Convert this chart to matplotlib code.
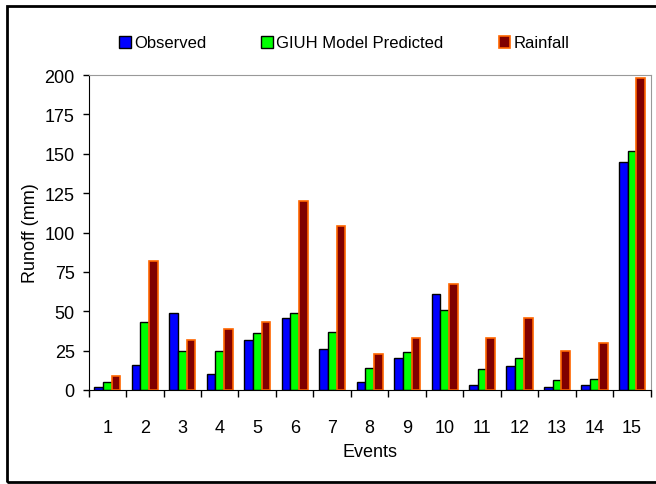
import numpy as np
import matplotlib
matplotlib.use("Agg")
from matplotlib import pyplot as plt
from matplotlib.patches import Rectangle

plt.rcParams["font.family"] = ["Liberation Sans", "DejaVu Sans"]

events = [str(i) for i in range(1, 16)]
observed = [2, 16, 49, 10, 32, 46, 26, 5, 20, 61, 3, 15, 2, 3, 144.5]
giuh = [5, 43, 25, 25, 36, 49, 37, 14, 24, 51, 13, 20, 6, 7, 151.5]
rainfall = [9, 82, 32, 39, 43, 120, 104, 23, 33, 67, 33, 46, 25, 30, 198.5]

fig = plt.figure(figsize=(6.56, 4.85), dpi=100)
ax = fig.add_axes([0.135, 0.194, 0.857, 0.649])

x = np.arange(1, len(events) + 1)
w = 0.233
ax.bar(x - w, observed, w, color="#0000FF", edgecolor="black", linewidth=1, label="Observed")
ax.bar(x, giuh, w, color="#00FF00", edgecolor="black", linewidth=1, label="GIUH Model Predicted")
ax.bar(x + w, rainfall, w, color="#800000", edgecolor="#FF6600", linewidth=1.2, label="Rainfall")

ax.set_xlim(0.5, 15.5)
ax.set_ylim(0, 200)
ax.set_yticks(range(0, 201, 25))
ax.set_xticks(np.arange(0.5, 16, 1))
ax.set_xticklabels([])
ax.set_xticks(x, minor=True)
ax.set_xticklabels(events, minor=True)
ax.tick_params(axis="x", which="major", length=5, direction="out", width=1)
ax.tick_params(axis="x", which="minor", length=0, pad=21, labelsize=13)
ax.tick_params(axis="y", length=4, direction="out", width=1, pad=6, labelsize=13)

ax.spines["top"].set_color("#999999")
ax.spines["right"].set_color("#999999")
ax.spines["left"].set_color("black")
ax.spines["bottom"].set_color("black")

ax.set_xlabel("Events", fontsize=13, labelpad=5)
ax.set_ylabel("Runoff (mm)", fontsize=13, labelpad=4)

fig.legend(loc="center", bbox_to_anchor=(0.525, 1 - 44 / 485), ncol=3, frameon=False,
           fontsize=12, handlelength=0.7, handleheight=0.7, handletextpad=0.2,
           columnspacing=3.3)

fig.patches.append(Rectangle((7 / 656, 2 / 485), 1.1, 476 / 485, transform=fig.transFigure,
                             fill=False, edgecolor="black", linewidth=2))

fig.savefig("out.png", dpi=100)
